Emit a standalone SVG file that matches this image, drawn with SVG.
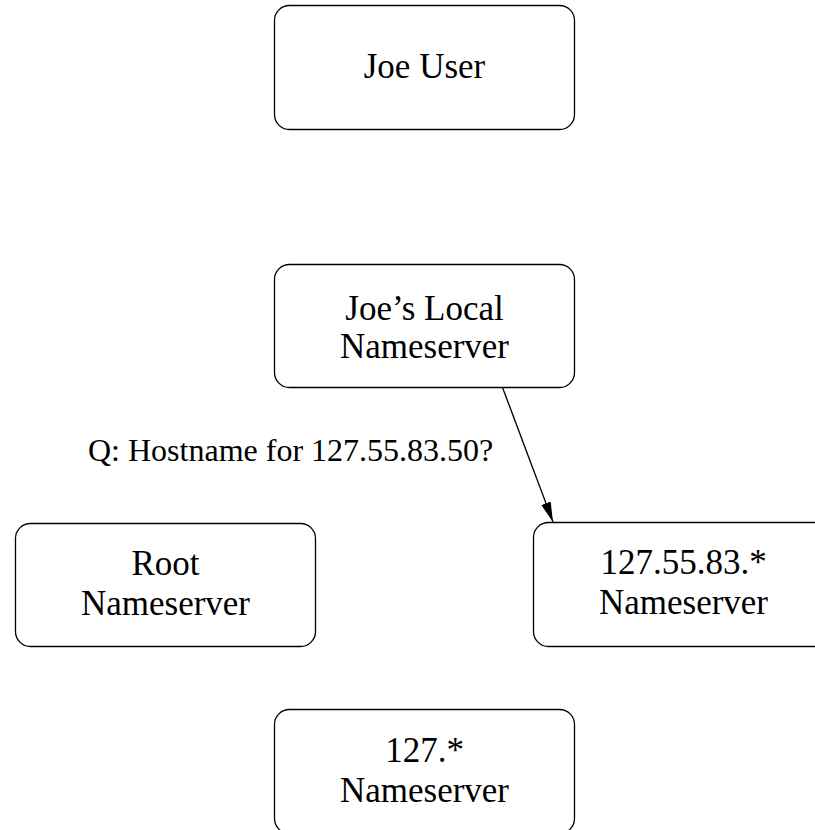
<svg xmlns="http://www.w3.org/2000/svg" width="815" height="830" viewBox="0 0 815 830">
<defs>
<style>
.box{fill:#fff;stroke:#000;stroke-width:1.3}
.t{font-family:"Liberation Serif","Times New Roman",serif;font-size:35px;text-anchor:middle;fill:#000}
.lbl{font-family:"Liberation Serif","Times New Roman",serif;font-size:32px;fill:#000}
.edge{stroke:#000;stroke-width:1.3;fill:none}
</style>
<marker id="arr" viewBox="0 0 20 10" refX="20" refY="5" markerWidth="20" markerHeight="10" markerUnits="userSpaceOnUse" orient="auto">
<path d="M0,0 L20,5 L0,10 Z" fill="#000"/>
</marker>
</defs>
<rect width="815" height="830" fill="#fff"/>
<g id="joe-user">
<rect class="box" x="274.5" y="5.5" width="300" height="124" rx="15"/>
<text class="t" x="424.5" y="78">Joe User</text>
</g>
<g id="local-ns">
<rect class="box" x="274.5" y="264.5" width="300" height="123" rx="15"/>
<text class="t" x="424.5" y="320">Joe’s Local</text>
<text class="t" x="424.5" y="358">Nameserver</text>
</g>
<g id="root-ns">
<rect class="box" x="15.5" y="523.5" width="300" height="123" rx="15"/>
<text class="t" x="165.5" y="575">Root</text>
<text class="t" x="165.5" y="615">Nameserver</text>
</g>
<g id="ns-127-55-83">
<rect class="box" x="533.5" y="522.5" width="300" height="124" rx="15"/>
<text class="t" x="683.5" y="574">127.55.83.*</text>
<text class="t" x="683.5" y="614">Nameserver</text>
</g>
<g id="ns-127">
<rect class="box" x="274.5" y="709.5" width="300" height="124" rx="15"/>
<text class="t" x="424.5" y="762">127.*</text>
<text class="t" x="424.5" y="802">Nameserver</text>
</g>
<g id="connectors">
<line class="edge" x1="502.7" y1="388" x2="553" y2="522" marker-end="url(#arr)"/>
<text class="lbl" x="88" y="461">Q: Hostname for 127.55.83.50?</text>
</g>
</svg>
